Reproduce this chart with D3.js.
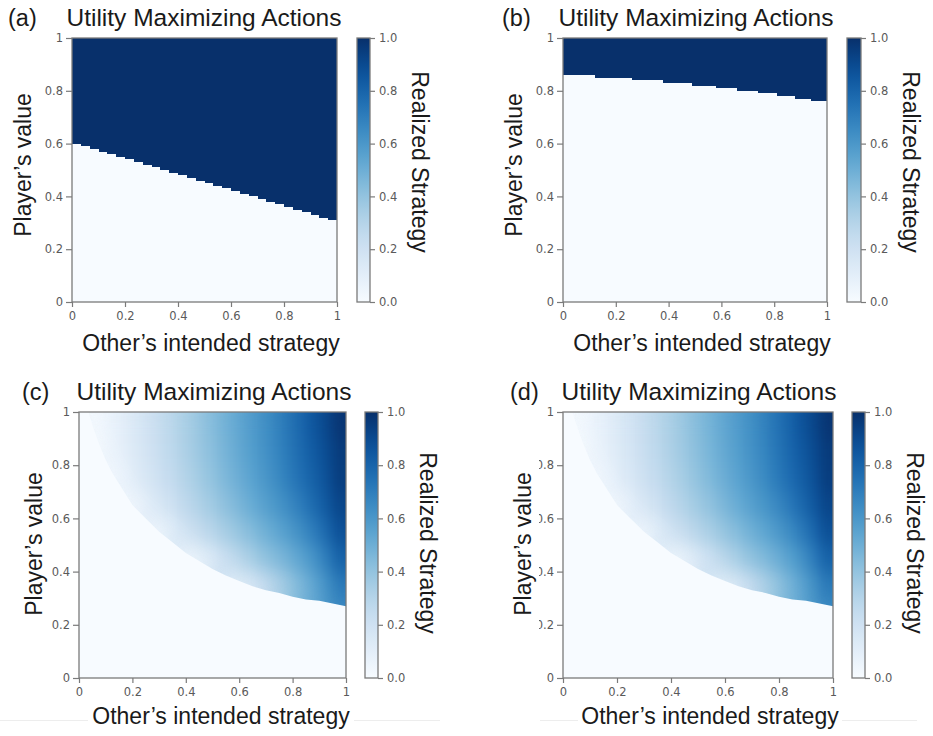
<!DOCTYPE html>
<html><head><meta charset="utf-8">
<script src="https://cdn.jsdelivr.net/npm/d3@7"></script>
<style>body{margin:0;background:#fff;} svg{display:block;}</style>
</head><body>
<svg id="chart" width="933" height="736"></svg>
<script>
// ---------------- data ----------------
const panelLetters = ["(a)", "(b)", "(c)", "(d)"];
const titleText = "Utility Maximizing Actions";
const xLabelText = "Other’s intended strategy";
const yLabelText = "Player’s value";
const cbLabelText = "Realized Strategy";
const axisTicks = [0, 0.2, 0.4, 0.6, 0.8, 1];
const axisTickLabels = ["0", "0.2", "0.4", "0.6", "0.8", "1"];
const cbTicks = [0, 0.2, 0.4, 0.6, 0.8, 1.0];
const cbTickLabels = ["0.0", "0.2", "0.4", "0.6", "0.8", "1.0"];

// (a): threshold player's value per column (equal-width columns), action = 1 above it
const aLevels = [0.60, 0.59, 0.58, 0.57, 0.56, 0.55, 0.54, 0.53, 0.52, 0.51,
                 0.50, 0.49, 0.48, 0.47, 0.46, 0.45, 0.44, 0.43, 0.42, 0.41,
                 0.40, 0.39, 0.38, 0.37, 0.36, 0.35, 0.34, 0.33, 0.32, 0.31];

// (b): step start (other's strategy) and threshold level
const bStepX = [0, 0.12, 0.26, 0.38, 0.49, 0.58, 0.66, 0.74, 0.81, 0.88, 0.94];
const bLevels = [0.86, 0.85, 0.84, 0.83, 0.82, 0.81, 0.80, 0.79, 0.78, 0.77, 0.76];

// (c), (d): realized strategy grid (cell centres), null = below the zero boundary
const heatCols = [0.025, 0.075, 0.125, 0.175, 0.225, 0.275, 0.325, 0.375, 0.425, 0.475,
                  0.525, 0.575, 0.625, 0.675, 0.725, 0.775, 0.825, 0.875, 0.925, 0.975];
const heatRows = [0.95, 0.85, 0.75, 0.65, 0.55, 0.45, 0.35, 0.25];
const heatValues = [
  [0.01, 0.03, 0.07, 0.11, 0.16, 0.21, 0.26, 0.31, 0.36, 0.41, 0.46, 0.51, 0.56, 0.61, 0.66, 0.72, 0.78, 0.85, 0.91, 0.98],
  [null, 0.01, 0.06, 0.10, 0.15, 0.20, 0.25, 0.30, 0.35, 0.40, 0.45, 0.50, 0.55, 0.60, 0.65, 0.71, 0.77, 0.83, 0.89, 0.96],
  [null, null, 0.02, 0.07, 0.13, 0.18, 0.23, 0.28, 0.33, 0.38, 0.43, 0.48, 0.53, 0.58, 0.63, 0.69, 0.75, 0.81, 0.87, 0.95],
  [null, null, null, 0.01, 0.06, 0.13, 0.18, 0.24, 0.29, 0.34, 0.39, 0.44, 0.49, 0.54, 0.59, 0.64, 0.70, 0.77, 0.84, 0.92],
  [null, null, null, null, null, 0.03, 0.08, 0.16, 0.22, 0.27, 0.32, 0.37, 0.42, 0.47, 0.52, 0.57, 0.63, 0.70, 0.78, 0.88],
  [null, null, null, null, null, null, null, 0.02, 0.05, 0.11, 0.19, 0.26, 0.32, 0.38, 0.43, 0.48, 0.54, 0.61, 0.70, 0.81],
  [null, null, null, null, null, null, null, null, null, null, null, 0.07, 0.12, 0.20, 0.29, 0.37, 0.45, 0.53, 0.62, 0.72],
  [null, null, null, null, null, null, null, null, null, null, null, null, null, null, null, null, null, 0.48, 0.56, 0.63]
];
// zero boundary of (c), (d): below it the realized strategy is 0
const edgeX = [0.035, 0.05, 0.075, 0.1, 0.125, 0.15, 0.2, 0.25, 0.3, 0.35, 0.4, 0.45, 0.5,
               0.55, 0.6, 0.65, 0.7, 0.75, 0.8, 0.85, 0.9, 0.95, 1.0];
const edgeY = [1.0, 0.95, 0.88, 0.82, 0.77, 0.73, 0.65, 0.60, 0.55, 0.51, 0.47, 0.44, 0.41,
               0.385, 0.365, 0.345, 0.33, 0.32, 0.305, 0.295, 0.29, 0.28, 0.27];

// ---------------- layout ----------------
const panels = [
  {kind: "a", px: [72, 337], py: [38, 302], cb: [357, 370], letterX: 8, titleY: 26, titleCx: 204,
   yLabX: 31, yLabCy: 165, xLabCx: 211, xLabY: 351, cbLabX: 412, cbLabCy: 162, clipTicksX: null},
  {kind: "b", px: [563, 827], py: [38, 302], cb: [847, 861], letterX: 502, titleY: 26, titleCx: 696,
   yLabX: 522, yLabCy: 165, xLabCx: 702, xLabY: 351, cbLabX: 903, cbLabCy: 162, clipTicksX: null},
  {kind: "heat", px: [79, 346], py: [412, 678], cb: [365, 378], letterX: 22, titleY: 400, titleCx: 214,
   yLabX: 42, yLabCy: 544, xLabCx: 221, xLabY: 724, cbLabX: 420, cbLabCy: 543, clipTicksX: null},
  {kind: "heat", px: [563, 833], py: [412, 678], cb: [852, 865], letterX: 510, titleY: 400, titleCx: 699,
   yLabX: 531, yLabCy: 544, xLabCx: 710, xLabY: 724, cbLabX: 907, cbLabCy: 543, clipTicksX: 539}
];

const color = d3.interpolateBlues;
const BIG_FONT = "'Liberation Sans', Arial, sans-serif";
const TICK_FONT = "'DejaVu Sans', sans-serif";
const FRAME = "#7a7a7a";
const TICK_TEXT = "#5a5a5a";

const svg = d3.select("#chart");
const defs = svg.append("defs");

// smoothing filter for the heat map (normalised blur)
const filt = defs.append("filter").attr("id", "smooth")
  .attr("color-interpolation-filters", "sRGB")
  .attr("x", "-5%").attr("y", "-5%").attr("width", "110%").attr("height", "110%");
filt.append("feGaussianBlur").attr("stdDeviation", "6 9");
filt.append("feComponentTransfer").append("feFuncA").attr("type", "linear").attr("slope", 60).attr("intercept", 0);

// faint separator lines at the bottom
const faint = [[0, 88], [354, 440], [540, 578], [842, 917]];
svg.selectAll("line.faint").data(faint).enter().append("line")
  .attr("x1", d => d[0]).attr("x2", d => d[1]).attr("y1", 720.5).attr("y2", 720.5)
  .attr("stroke", "#ededed").attr("stroke-width", 1);

panels.forEach((p, i) => {
  const g = svg.append("g");
  const xs = d3.scaleLinear().domain([0, 1]).range(p.px);
  const ys = d3.scaleLinear().domain([0, 1]).range([p.py[1], p.py[0]]);

  const pid = "plotclip" + i;
  defs.append("clipPath").attr("id", pid).append("rect")
    .attr("x", xs(0)).attr("y", ys(1)).attr("width", xs(1) - xs(0)).attr("height", ys(0) - ys(1));

  // background = value 0
  g.append("rect").attr("x", xs(0)).attr("y", ys(1))
    .attr("width", xs(1) - xs(0)).attr("height", ys(0) - ys(1)).attr("fill", color(0));

  if (p.kind === "a") {
    const band = d3.scaleBand().domain(d3.range(aLevels.length)).range(p.px);
    g.append("g").attr("clip-path", `url(#${pid})`)
      .selectAll("rect").data(aLevels).enter().append("rect")
      .attr("x", (d, j) => band(j)).attr("width", band.bandwidth() + 1)
      .attr("y", ys(1)).attr("height", d => ys(d) - ys(1))
      .attr("shape-rendering", "crispEdges")
      .attr("fill", color(1));
  } else if (p.kind === "b") {
    const steps = bStepX.map((s, j) => ({x0: s, x1: j + 1 < bStepX.length ? bStepX[j + 1] : 1, y: bLevels[j]}));
    g.append("g").attr("clip-path", `url(#${pid})`)
      .selectAll("rect").data(steps).enter().append("rect")
      .attr("x", d => xs(d.x0)).attr("width", d => xs(d.x1) - xs(d.x0) + 1)
      .attr("y", ys(1)).attr("height", d => ys(d.y) - ys(1))
      .attr("shape-rendering", "crispEdges")
      .attr("fill", color(1));
  } else {
    const pts = [[edgeX[0], 1]].concat(edgeX.map((x, j) => [x, edgeY[j]])).concat([[1, 1]]);
    const edgePath = d3.line().x(d => xs(d[0])).y(d => ys(d[1]))(pts) + "Z";
    const cid = "edge" + i;
    defs.append("clipPath").attr("id", cid).append("path").attr("d", edgePath);
    const outer = g.append("g").attr("clip-path", `url(#${cid})`);
    const blurG = outer.append("g").attr("filter", "url(#smooth)");
    const inner = blurG.append("g").attr("clip-path", `url(#${cid})`);
    const cw = heatCols[1] - heatCols[0];
    const ch = heatRows[0] - heatRows[1];
    const cells = [];
    heatRows.forEach((r, ri) => heatCols.forEach((c, ci) => {
      const v = heatValues[ri][ci];
      if (v !== null) cells.push({c, r, v});
    }));
    inner.selectAll("rect").data(cells).enter().append("rect")
      .attr("x", d => xs(d.c - cw / 2) - 0.3)
      .attr("y", d => ys(d.r + ch / 2) - 0.3)
      .attr("width", xs(cw) - xs(0) + 0.6)
      .attr("height", ys(0) - ys(ch) + 0.6)
      .attr("fill", d => color(d.v));
  }

  // frame
  g.append("rect").attr("x", xs(0)).attr("y", ys(1))
    .attr("width", xs(1) - xs(0)).attr("height", ys(0) - ys(1))
    .attr("fill", "none").attr("stroke", FRAME).attr("stroke-width", 1.3);

  // axes
  const styleAxis = (ax) => {
    ax.select(".domain").remove();
    ax.selectAll(".tick line").attr("stroke", FRAME).attr("stroke-width", 1.2);
    ax.selectAll(".tick text").attr("fill", TICK_TEXT)
      .style("font-family", TICK_FONT).style("font-size", "11.5px");
  };
  const xAx = g.append("g").attr("transform", `translate(0,${ys(0)})`)
    .call(d3.axisBottom(xs).tickValues(axisTicks).tickFormat((d, j) => axisTickLabels[j])
      .tickSize(5).tickPadding(5));
  styleAxis(xAx);
  const yAx = g.append("g").attr("transform", `translate(${xs(0)},0)`)
    .call(d3.axisLeft(ys).tickValues(axisTicks).tickFormat((d, j) => axisTickLabels[j])
      .tickSize(6).tickPadding(3));
  styleAxis(yAx);
  if (p.clipTicksX !== null) {
    const tid = "tickclip" + i;
    defs.append("clipPath").attr("id", tid).append("rect")
      .attr("x", p.clipTicksX - xs(0)).attr("y", -20).attr("width", 400).attr("height", 800);
    yAx.attr("clip-path", `url(#${tid})`);
  }

  // labels
  g.append("text").attr("x", p.letterX).attr("y", p.titleY)
    .style("font-family", BIG_FONT).style("font-size", "23.5px").attr("fill", "#1a1a1a")
    .text(panelLetters[i]);
  g.append("text").attr("x", p.titleCx).attr("y", p.titleY).attr("text-anchor", "middle")
    .style("font-family", BIG_FONT).style("font-size", "24.5px").attr("fill", "#1a1a1a")
    .text(titleText);
  g.append("text").attr("x", p.xLabCx).attr("y", p.xLabY).attr("text-anchor", "middle")
    .style("font-family", BIG_FONT).style("font-size", "23px").attr("fill", "#1a1a1a")
    .text(xLabelText);
  g.append("text").attr("transform", `translate(${p.yLabX},${p.yLabCy}) rotate(-90)`)
    .attr("text-anchor", "middle")
    .style("font-family", BIG_FONT).style("font-size", "23px").attr("fill", "#1a1a1a")
    .text(yLabelText);

  // colorbar
  const gid = "cbgrad" + i;
  const grad = defs.append("linearGradient").attr("id", gid)
    .attr("x1", 0).attr("y1", 1).attr("x2", 0).attr("y2", 0);
  d3.range(0, 1.0001, 0.05).forEach(t => grad.append("stop")
    .attr("offset", t).attr("stop-color", color(t)));
  const cs = d3.scaleLinear().domain([0, 1]).range([p.py[1], p.py[0]]);
  g.append("rect").attr("x", p.cb[0]).attr("y", cs(1))
    .attr("width", p.cb[1] - p.cb[0]).attr("height", cs(0) - cs(1))
    .attr("fill", `url(#${gid})`).attr("stroke", FRAME).attr("stroke-width", 1.3);
  const cAx = g.append("g").attr("transform", `translate(${p.cb[1]},0)`)
    .call(d3.axisRight(cs).tickValues(cbTicks).tickFormat((d, j) => cbTickLabels[j])
      .tickSize(5).tickPadding(4));
  styleAxis(cAx);
  g.append("text").attr("transform", `translate(${p.cbLabX},${p.cbLabCy}) rotate(90)`)
    .attr("text-anchor", "middle")
    .style("font-family", BIG_FONT).style("font-size", "23px").attr("fill", "#1a1a1a")
    .text(cbLabelText);
});
</script>
</body></html>
